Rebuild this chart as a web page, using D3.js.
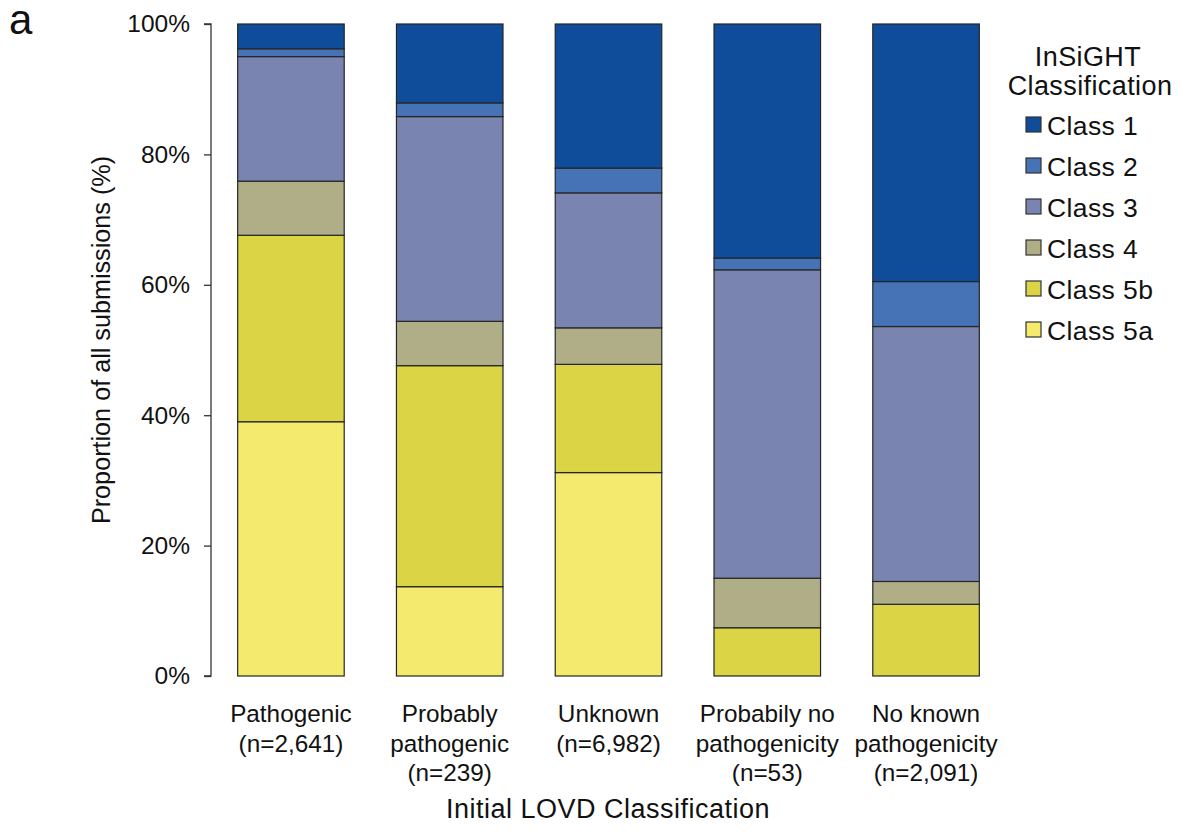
<!DOCTYPE html>
<html>
<head>
<meta charset="utf-8">
<script src="https://cdn.jsdelivr.net/npm/d3@7"></script>
<style>
  html, body { margin: 0; padding: 0; background: #fff; }
  svg { display: block; font-family: "Liberation Sans", Arial, Helvetica, sans-serif; }
</style>
</head>
<body>
<svg id="chart" width="1186" height="834"></svg>
<script>
// Initial LOVD classification groups (x axis), with their submission counts
const categories = ["Pathogenic", "Probably pathogenic", "Unknown", "Probabily no pathogenicity", "No known pathogenicity"];
const categoryLines = [
  ["Pathogenic", "(n=2,641)"],
  ["Probably", "pathogenic", "(n=239)"],
  ["Unknown", "(n=6,982)"],
  ["Probabily no", "pathogenicity", "(n=53)"],
  ["No known", "pathogenicity", "(n=2,091)"]
];

// Share (%) of each InSiGHT class within every group
const class5a = [39.0, 13.7, 31.2, 0.0, 0.0];
const class5b = [28.6, 33.9, 16.6, 7.4, 11.0];
const class4  = [8.3, 6.8, 5.6, 7.6, 3.5];
const class3  = [19.1, 31.4, 20.7, 47.3, 39.1];
const class2  = [1.2, 2.1, 3.8, 1.8, 6.9];
const class1  = [3.8, 12.1, 22.1, 35.9, 39.5];

const yTicks = [0, 20, 40, 60, 80, 100];

// Stack order from bottom to top
const seriesKeys = ["Class 5a", "Class 5b", "Class 4", "Class 3", "Class 2", "Class 1"];
const seriesValues = {
  "Class 5a": class5a, "Class 5b": class5b, "Class 4": class4,
  "Class 3": class3, "Class 2": class2, "Class 1": class1
};
const legendOrder = ["Class 1", "Class 2", "Class 3", "Class 4", "Class 5b", "Class 5a"];
const colors = {
  "Class 1": "#0f4d9b",
  "Class 2": "#4672b6",
  "Class 3": "#7a84b1",
  "Class 4": "#b0ae86",
  "Class 5b": "#dbd545",
  "Class 5a": "#f4ea6e"
};

const rows = categories.map((c, i) => {
  const r = { category: c };
  seriesKeys.forEach(k => { r[k] = seriesValues[k][i]; });
  return r;
});

const svg = d3.select("#chart");

const x = d3.scaleBand()
  .domain(categories)
  .range([211, 1006])
  .paddingInner(0.329)
  .paddingOuter(0.168);

const y = d3.scaleLinear().domain([0, 100]).range([676, 24]);

const stacked = d3.stack().keys(seriesKeys)(rows);

// Bars
const layers = svg.append("g").selectAll("g")
  .data(stacked)
  .join("g")
  .attr("fill", d => colors[d.key]);

layers.selectAll("rect")
  .data(d => d.filter(s => s[1] - s[0] > 0))
  .join("rect")
  .attr("x", d => x(d.data.category))
  .attr("width", x.bandwidth())
  .attr("y", d => y(d[1]))
  .attr("height", d => y(d[0]) - y(d[1]))
  .attr("stroke", "#262626")
  .attr("stroke-width", 1.2);

// Y axis
const yAxis = d3.axisLeft(y)
  .tickValues(yTicks)
  .tickFormat(d => d + "%")
  .tickSize(7)
  .tickPadding(14);

const gy = svg.append("g")
  .attr("transform", "translate(211,0)")
  .call(yAxis);
gy.select(".domain").attr("stroke", "#333").attr("stroke-width", 1.3)
  .attr("d", `M-7,${y(100)}H0V${y(0)}H-7`);
gy.selectAll(".tick line").attr("stroke", "#333").attr("stroke-width", 1.3);
gy.selectAll(".tick text")
  .attr("fill", "#111")
  .style("font-size", "24.5px")
  .style("font-family", "'Liberation Sans', Arial, sans-serif");

// Category labels below bars
const xLabels = svg.append("g").selectAll("text")
  .data(categories)
  .join("text")
  .attr("text-anchor", "middle")
  .attr("fill", "#111")
  .style("font-size", "24.3px")
  .attr("transform", d => `translate(${x(d) + x.bandwidth() / 2},722)`);

xLabels.selectAll("tspan")
  .data((d, i) => categoryLines[i])
  .join("tspan")
  .attr("x", 0)
  .attr("y", (d, i) => i * 29.5)
  .text(d => d);

// Axis titles
svg.append("text")
  .attr("x", 608)
  .attr("y", 818)
  .attr("text-anchor", "middle")
  .attr("fill", "#111")
  .style("font-size", "27px")
  .style("letter-spacing", "0.5px")
  .text("Initial LOVD Classification");

svg.append("text")
  .attr("transform", "translate(110,340) rotate(-90)")
  .attr("text-anchor", "middle")
  .attr("fill", "#111")
  .style("font-size", "25.2px")
  .text("Proportion of all submissions (%)");

// Panel letter
svg.append("text")
  .attr("x", 9)
  .attr("y", 34)
  .attr("fill", "#111")
  .style("font-size", "42px")
  .text("a");

// Legend
const legend = svg.append("g");
legend.append("text")
  .attr("x", 1088).attr("y", 66)
  .attr("text-anchor", "middle")
  .attr("fill", "#111")
  .style("font-size", "27px")
  .style("letter-spacing", "0.4px")
  .text("InSiGHT");
legend.append("text")
  .attr("x", 1090).attr("y", 95)
  .attr("text-anchor", "middle")
  .attr("fill", "#111")
  .style("font-size", "27px")
  .style("letter-spacing", "0.4px")
  .text("Classification");

const items = legend.selectAll("g.item")
  .data(legendOrder)
  .join("g")
  .attr("class", "item")
  .attr("transform", (d, i) => `translate(1026,${135 + i * 41})`);

items.append("rect")
  .attr("x", 0).attr("y", -18)
  .attr("width", 15).attr("height", 15)
  .attr("fill", d => colors[d])
  .attr("stroke", "#333")
  .attr("stroke-width", 1.2);

items.append("text")
  .attr("x", 21).attr("y", 0)
  .attr("fill", "#111")
  .style("font-size", "26.5px")
  .style("letter-spacing", "0.4px")
  .text(d => d);
</script>
</body>
</html>
